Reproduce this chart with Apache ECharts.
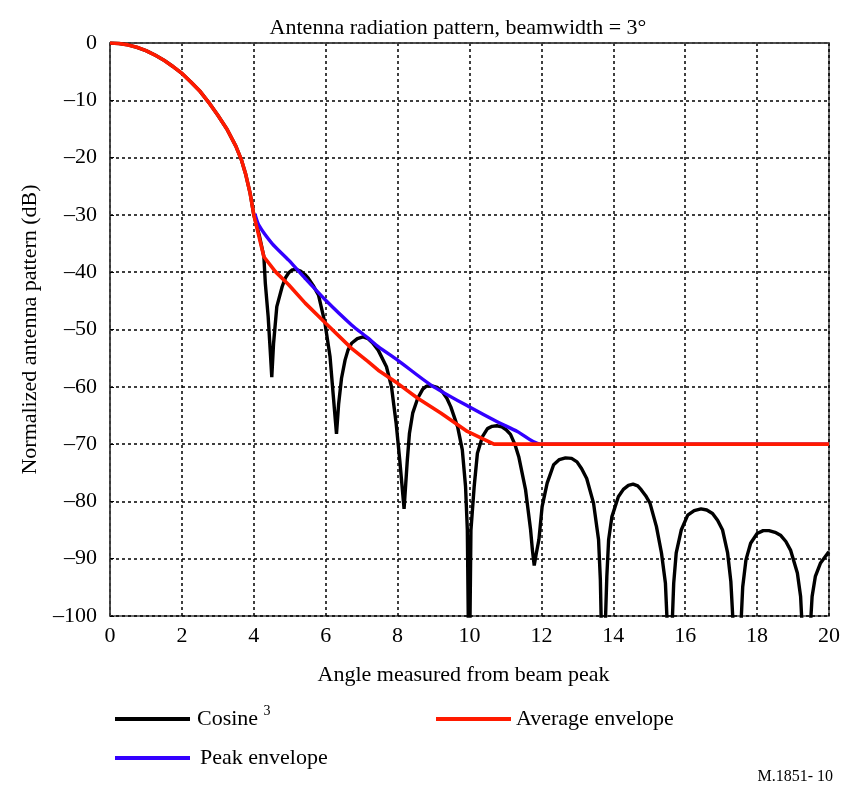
<!DOCTYPE html>
<html>
<head>
<meta charset="utf-8">
<script src="https://cdn.jsdelivr.net/npm/echarts@6/dist/echarts.min.js"></script>
<style>html,body{margin:0;padding:0;background:#fff}#c{width:843px;height:785px}</style>
</head>
<body>
<div id="c"></div>
<script>
// Main beam (shared by cosine pattern and average envelope)
var beamAngle = [0,0.25,0.5,0.75,1,1.25,1.5,1.75,2,2.25,2.5,2.75,3,3.25,3.5,3.65,3.77,3.9,4.0];
var beamDb = [0,-0.08,-0.33,-0.75,-1.33,-2.1,-3.0,-4.1,-5.3,-6.8,-8.4,-10.4,-12.6,-15.0,-18.0,-20.3,-22.8,-26.3,-30];

// Cosine^3 pattern beyond main beam (angle, dB)
var cosAngle = [4.15,4.28,4.32,4.40,4.46,4.5,4.55,4.64,4.79,4.88,4.97,5.07,5.17,5.3,5.42,5.52,5.65,5.80,5.98,6.12,6.21,6.30,6.36,6.44,6.54,6.62,6.72,6.88,7.04,7.18,7.3,7.46,7.69,7.83,7.96,8.06,8.18,8.27,8.33,8.42,8.56,8.70,8.8,8.93,9.1,9.25,9.37,9.48,9.67,9.80,9.89,9.94,9.99,10.04,10.13,10.22,10.36,10.5,10.63,10.76,10.9,11.02,11.14,11.26,11.37,11.56,11.70,11.75,11.80,11.86,11.93,12.02,12.16,12.34,12.5,12.67,12.84,12.99,13.12,13.26,13.45,13.59,13.64,13.71,13.82,13.87,13.96,14.14,14.28,14.42,14.55,14.68,14.78,14.9,15.02,15.2,15.34,15.45,15.575,15.68,15.75,15.89,16.07,16.25,16.44,16.6,16.76,16.9,17.04,17.18,17.27,17.45,17.6,17.69,17.82,18.0,18.17,18.33,18.5,18.65,18.8,18.93,19.12,19.21,19.36,19.53,19.62,19.76,19.97,20];
var cosDb = [-33.5,-37.3,-41.9,-47.8,-54,-58.3,-52.4,-46,-42.5,-41,-40.1,-39.6,-39.5,-39.8,-40.4,-41.1,-42.3,-44,-48.9,-54.7,-61.5,-68.2,-63,-58.5,-55.3,-53.6,-52.4,-51.6,-51.3,-51.6,-52.3,-53.6,-56.5,-60,-66.4,-72.8,-81.3,-72.8,-68.1,-64.6,-62,-60.4,-59.9,-59.8,-60.1,-60.9,-62,-63.5,-67,-71,-77.4,-85,-115,-85,-77.4,-71.6,-68.7,-67.3,-66.9,-66.8,-67,-67.5,-68.3,-70,-72.2,-78,-85,-88.5,-91.2,-89,-86.7,-80.9,-76.8,-73.6,-72.7,-72.4,-72.5,-73.1,-74.3,-76,-80.3,-86.7,-93.7,-115,-93.1,-86.7,-82.7,-79.2,-77.9,-77.2,-77,-77.3,-78,-79,-80.3,-84.4,-89,-94.3,-112,-94.3,-89,-85,-82.4,-81.6,-81.3,-81.5,-82.1,-83.3,-85,-89,-94,-115,-94.9,-90.2,-87.3,-85.6,-85.1,-85.1,-85.4,-85.9,-87,-88.5,-92.5,-96.6,-115,-96.6,-93.1,-90.8,-89,-88.8];

// Average envelope beyond main beam
var avgAngle = [4.28,4.6,4.97,5.43,6.0,6.72,7.18,7.46,8.0,8.56,9.21,9.94,10.68,20];
var avgDb = [-37.3,-39.9,-42.2,-45.4,-48.9,-53.3,-55.6,-57.1,-59.4,-62,-64.6,-67.8,-70,-70];

// Peak envelope
var peakAngle = [4.03,4.14,4.51,4.97,5.43,6.0,6.72,7.18,7.46,7.99,8.93,9.99,10.77,11.33,11.97,20];
var peakDb = [-29.8,-31.8,-35,-37.9,-41.1,-44.9,-49.2,-51.5,-53,-55.3,-59.7,-63.5,-66.1,-67.8,-70,-70];

var xTicks = [0,2,4,6,8,10,12,14,16,18,20];
var yTicks = [0,-10,-20,-30,-40,-50,-60,-70,-80,-90,-100];

var seriesNames = ['Cosine 3','Average envelope','Peak envelope'];

function pairs(a,b){return a.map(function(v,i){return [v,b[i]];});}
var cosData = pairs(beamAngle,beamDb).concat(pairs(cosAngle,cosDb));
var avgData = pairs(beamAngle,beamDb).concat(pairs(avgAngle,avgDb));
var peakData = pairs(peakAngle,peakDb);

var FONT = '"Liberation Serif", "Times New Roman", serif';
var FS = 22;
var chart = echarts.init(document.getElementById('c'), null, {renderer:'canvas'});
chart.setOption({
  backgroundColor:'#fff',
  animation:false,
  title:[
    {text:'Antenna radiation pattern, beamwidth = 3°', left:453, top:12, textAlign:'center',
     textStyle:{fontFamily:FONT, fontSize:FS, fontWeight:'normal', color:'#000'}},
    {text:'M.1851- 10', right:5, top:764,
     textStyle:{fontFamily:FONT, fontSize:16, fontWeight:'normal', color:'#000'}}
  ],
  grid:{left:110, top:43, width:723, height:573, show:true, borderColor:'#444', borderWidth:1.5, backgroundColor:'transparent'},
  xAxis:{type:'value', min:0, max:20, interval:2,
    name:'Angle measured from beam peak', nameLocation:'middle', nameGap:48,
    nameTextStyle:{fontFamily:FONT, fontSize:FS, color:'#000', padding:[0,12,0,0]},
    axisLine:{show:true, lineStyle:{color:'#444', width:1.5}},
    axisTick:{show:false},
    axisLabel:{fontFamily:FONT, fontSize:FS, color:'#000', margin:9,
      formatter:function(v){return xTicks.indexOf(v)>=0 ? String(v) : '';}},
    splitLine:{show:true, lineStyle:{color:'#000', type:[3,3], width:1.5}}
  },
  yAxis:{type:'value', min:-100, max:0, interval:10,
    name:'Normalized antenna pattern (dB)', nameLocation:'middle', nameGap:69,
    nameTextStyle:{fontFamily:FONT, fontSize:FS, color:'#000'},
    axisLine:{show:true, lineStyle:{color:'#444', width:1.5}},
    axisTick:{show:true, inside:true, length:4, lineStyle:{color:'#000'}},
    axisLabel:{fontFamily:FONT, fontSize:FS, color:'#000', margin:13,
      formatter:function(v){return yTicks.indexOf(v)>=0 ? String(v).replace('-','\u2013') : '';}},
    splitLine:{show:true, lineStyle:{color:'#000', type:[3,3], width:1.5}}
  },
  legend:[
    {data:[seriesNames[0]], left:110, top:699, itemWidth:75, itemHeight:4, icon:'rect', itemGap:10,
     formatter:function(){return '{a|Cosine} {s|3}';},
     textStyle:{fontFamily:FONT, fontSize:FS, color:'#000', padding:[0,0,0,2],
       rich:{a:{fontFamily:FONT, fontSize:FS, color:'#000'}, s:{fontFamily:FONT, fontSize:14, color:'#000', verticalAlign:'top', padding:[0,0,16,0]}}}},
    {data:[seriesNames[1]], left:431, top:703, itemWidth:75, itemHeight:4, icon:'rect',
     textStyle:{fontFamily:FONT, fontSize:FS, color:'#000'}},
    {data:[seriesNames[2]], left:110, top:742, itemWidth:75, itemHeight:4, icon:'rect',
     textStyle:{fontFamily:FONT, fontSize:FS, color:'#000', padding:[0,0,0,5]}}
  ],
  series:[
    {name:seriesNames[0], type:'line', data:cosData, showSymbol:false, clip:true,
     lineStyle:{color:'#000', width:3.4}, itemStyle:{color:'#000'}, z:2},
    {name:seriesNames[2], type:'line', data:peakData, showSymbol:false, clip:true,
     smooth:0.25, lineStyle:{color:'#3300ff', width:3.4}, itemStyle:{color:'#3300ff'}, z:3},
    {name:seriesNames[1], type:'line', data:avgData, showSymbol:false, clip:true,
     lineStyle:{color:'#ff1a00', width:3.6}, itemStyle:{color:'#ff1a00'}, z:4}
  ]
});
</script>
</body>
</html>
